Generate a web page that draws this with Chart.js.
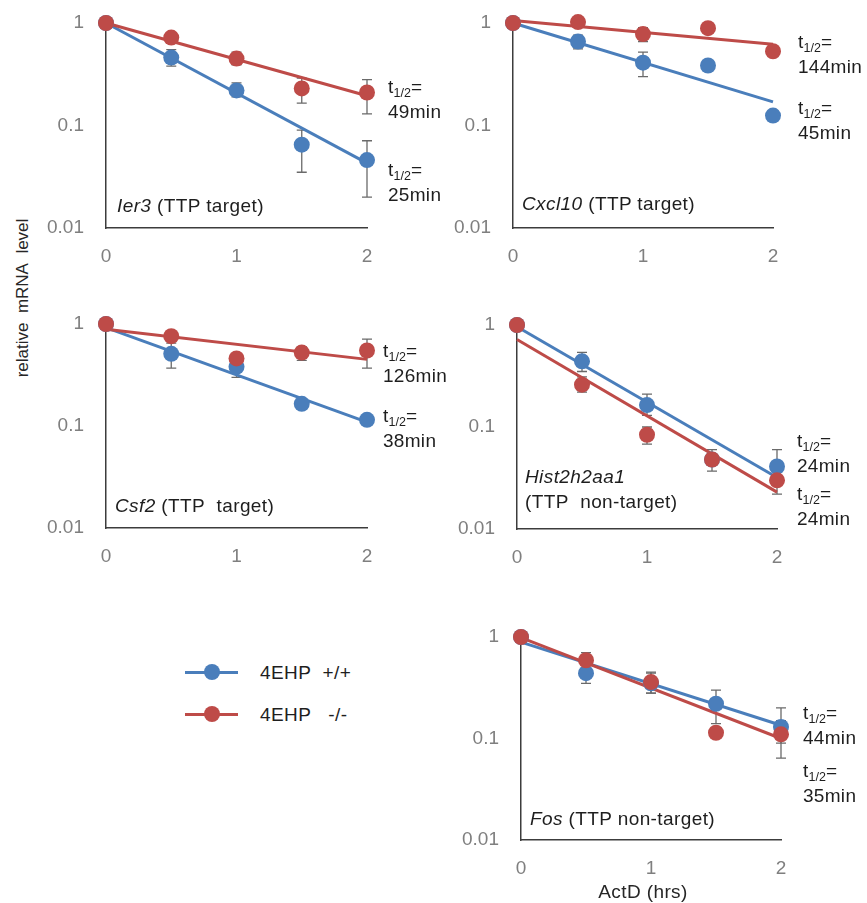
<!DOCTYPE html>
<html><head><meta charset="utf-8">
<script src="https://cdn.jsdelivr.net/npm/chart.js@4.4.0/dist/chart.umd.min.js"></script>
<style>
html,body{margin:0;padding:0;background:#fff;}
body{width:867px;height:903px;position:relative;overflow:hidden;font-family:'Liberation Sans',Arial,sans-serif;}
canvas{position:absolute;}
.txt{position:absolute;white-space:nowrap;font-size:19px;color:#1e1e1e;line-height:25px;letter-spacing:0.3px;}
.txt sub{font-size:12.5px;vertical-align:-4px;line-height:0;letter-spacing:0;}
.gene{position:absolute;white-space:nowrap;font-size:19px;color:#1e1e1e;line-height:25px;letter-spacing:0.4px;}
.gene i{font-style:italic;}
.lg-line{position:absolute;height:3px;}
.lg-dot{position:absolute;width:16px;height:16px;border-radius:50%;}
</style>
</head><body>
<script>
// ---------- shared axes ----------
const times = [0, 0.5, 1, 1.5, 2];
const fitTimes = [0, 2];
const xTickValues = [0, 1, 2];
const xTickLabels = ['0', '1', '2'];
const yTickValues = [0.01, 0.1, 1];
const yTickLabels = ['0.01', '0.1', '1'];
const seriesNames = ['4EHP +/+', '4EHP -/-'];

// ---------- Ier3 ----------
const ier3WT = [1, 0.46, 0.22, 0.065, 0.046];
const ier3WTHi = [null, 0.55, 0.26, 0.09, 0.071];
const ier3WTLo = [null, 0.38, 0.19, 0.035, 0.02];
const ier3KO = [1, 0.72, 0.45, 0.23, 0.21];
const ier3KOHi = [null, null, 0.52, 0.29, 0.28];
const ier3KOLo = [null, null, 0.39, 0.165, 0.13];
const ier3FitWT = [1.0, 0.043];
const ier3FitKO = [1.0, 0.195];

// ---------- Cxcl10 ----------
const cxcl10WT = [1, 0.66, 0.41, 0.385, 0.125];
const cxcl10WTHi = [null, 0.76, 0.52, null, null];
const cxcl10WTLo = [null, 0.56, 0.30, null, null];
const cxcl10KO = [1, 1.02, 0.78, 0.89, 0.53];
const cxcl10KOHi = [null, null, 0.90, null, null];
const cxcl10KOLo = [null, null, 0.66, null, null];
const cxcl10FitWT = [1.0, 0.17];
const cxcl10FitKO = [1.06, 0.62];

// ---------- Csf2 ----------
const csf2WT = [1, 0.51, 0.38, 0.165, 0.115];
const csf2WTHi = [null, 0.65, 0.43, null, null];
const csf2WTLo = [null, 0.37, 0.30, null, null];
const csf2KO = [1, 0.76, 0.46, 0.525, 0.55];
const csf2KOHi = [null, null, null, 0.60, 0.71];
const csf2KOLo = [null, null, null, 0.44, 0.37];
const csf2FitWT = [0.92, 0.109];
const csf2FitKO = [0.89, 0.45];

// ---------- Hist2h2aa1 ----------
const histWT = [1, 0.44, 0.164, 0.048, 0.041];
const histWTHi = [null, 0.54, 0.21, null, 0.06];
const histWTLo = [null, 0.35, 0.13, null, null];
const histKO = [1, 0.26, 0.084, 0.048, 0.03];
const histKOHi = [null, 0.31, 0.10, 0.06, null];
const histKOLo = [null, 0.22, 0.068, 0.037, 0.022];
const histFitWT = [0.96, 0.032];
const histFitKO = [0.72, 0.023];

// ---------- Fos ----------
const fosWT = [1, 0.44, 0.35, 0.22, 0.13];
const fosWTHi = [null, 0.55, 0.44, 0.30, 0.20];
const fosWTLo = [null, 0.35, 0.28, 0.14, 0.09];
const fosKO = [1, 0.59, 0.36, 0.114, 0.11];
const fosKOHi = [null, 0.70, 0.45, null, 0.15];
const fosKOLo = [null, 0.49, 0.28, null, 0.064];
const fosFitWT = [0.89, 0.135];
const fosFitKO = [0.985, 0.10];

// ---------- text ----------
const halfLives = {
  ier3: ['49min', '25min'], cxcl10: ['144min', '45min'], csf2: ['126min', '38min'],
  hist: ['24min', '24min'], fos: ['44min', '35min']
};
const yTitle = 'relative  mRNA  level';
const xTitle = 'ActD (hrs)';

// ---------- style ----------
const BLUE = '#4a7ebb';
const RED = '#be4b48';
const AXIS = '#3c3c3c';
const TICK = '#7f7f7f';
const ERR = '#6a6a6a';
const FONT = "'Liberation Sans', Arial, sans-serif";
const YW = 70, XH = 50, PT = 40, PR = 32;

const panels = [
  {wt: ier3WT, wtHi: ier3WTHi, wtLo: ier3WTLo, ko: ier3KO, koHi: ier3KOHi, koLo: ier3KOLo, fitWT: ier3FitWT, fitKO: ier3FitKO, box: [106, 23, 367, 228]},
  {wt: cxcl10WT, wtHi: cxcl10WTHi, wtLo: cxcl10WTLo, ko: cxcl10KO, koHi: cxcl10KOHi, koLo: cxcl10KOLo, fitWT: cxcl10FitWT, fitKO: cxcl10FitKO, box: [513, 23, 773, 228]},
  {wt: csf2WT, wtHi: csf2WTHi, wtLo: csf2WTLo, ko: csf2KO, koHi: csf2KOHi, koLo: csf2KOLo, fitWT: csf2FitWT, fitKO: csf2FitKO, box: [106, 324, 367, 528]},
  {wt: histWT, wtHi: histWTHi, wtLo: histWTLo, ko: histKO, koHi: histKOHi, koLo: histKOLo, fitWT: histFitWT, fitKO: histFitKO, box: [517, 325, 777, 529]},
  {wt: fosWT, wtHi: fosWTHi, wtLo: fosWTLo, ko: fosKO, koHi: fosKOHi, koLo: fosKOLo, fitWT: fosFitWT, fitKO: fosFitKO, box: [521, 637, 781, 840]}
];

const errorBars = {
  id: 'errorBars',
  beforeDatasetsDraw(chart) {
    const {ctx} = chart;
    const xs = chart.scales.x, ys = chart.scales.y;
    ctx.save();
    ctx.strokeStyle = ERR;
    ctx.lineWidth = 1.3;
    chart.data.datasets.forEach(ds => {
      if (!ds.errHigh) return;
      ds.data.forEach((p, i) => {
        const px = xs.getPixelForValue(p.x);
        const py = ys.getPixelForValue(p.y);
        [ds.errHigh[i], ds.errLow[i]].forEach(v => {
          if (v == null) return;
          const ey = ys.getPixelForValue(v);
          ctx.beginPath();
          ctx.moveTo(px, py); ctx.lineTo(px, ey);
          ctx.moveTo(px - 5, ey); ctx.lineTo(px + 5, ey);
          ctx.stroke();
        });
      });
    });
    ctx.restore();
  }
};

function pts(xs, ys) { return xs.map((x, i) => ({x: x, y: ys[i]})); }

panels.forEach(p => {
  const [L, T, R, B] = p.box;
  const c = document.createElement('canvas');
  const w = YW + (R - L) + PR, h = PT + (B - T) + XH;
  c.width = w; c.height = h;
  c.style.left = (L - YW) + 'px'; c.style.top = (T - PT) + 'px';
  c.style.width = w + 'px'; c.style.height = h + 'px';
  document.body.appendChild(c);
  new Chart(c, {
    type: 'scatter',
    data: {datasets: [
      {label: seriesNames[1] + ' fit', type: 'line', data: pts(fitTimes, p.fitKO), borderColor: RED, borderWidth: 3, pointRadius: 0, fill: false, clip: false, order: 2},
      {label: seriesNames[0] + ' fit', type: 'line', data: pts(fitTimes, p.fitWT), borderColor: BLUE, borderWidth: 3, pointRadius: 0, fill: false, clip: false, order: 3},
      {label: seriesNames[0], data: pts(times, p.wt), errHigh: p.wtHi, errLow: p.wtLo, backgroundColor: BLUE, borderWidth: 0, pointRadius: 8, clip: false, order: 1},
      {label: seriesNames[1], data: pts(times, p.ko), errHigh: p.koHi, errLow: p.koLo, backgroundColor: RED, borderWidth: 0, pointRadius: 8, clip: false, order: 0}
    ]},
    options: {
      responsive: false, animation: false, devicePixelRatio: 1, events: [],
      layout: {padding: {top: PT, right: PR, left: 0, bottom: 0}},
      plugins: {legend: {display: false}, tooltip: {enabled: false}},
      scales: {
        x: {
          type: 'linear', min: 0, max: 2,
          afterBuildTicks: s => { s.ticks = xTickValues.map(v => ({value: v})); },
          afterFit: s => { s.height = XH; },
          grid: {display: false, drawTicks: false},
          border: {display: true, color: AXIS, width: 1.5},
          ticks: {padding: 17, color: TICK, font: {family: FONT, size: 19}, maxRotation: 0, autoSkip: false,
                  callback: v => xTickLabels[xTickValues.indexOf(v)]}
        },
        y: {
          type: 'logarithmic', min: 0.01, max: 1,
          afterBuildTicks: s => { s.ticks = yTickValues.map(v => ({value: v})); },
          afterFit: s => { s.width = YW; },
          grid: {display: false, drawTicks: false},
          border: {display: true, color: AXIS, width: 1.5},
          ticks: {padding: 22, color: TICK, font: {family: FONT, size: 19}, autoSkip: false,
                  callback: v => yTickLabels[yTickValues.indexOf(v)]}
        }
      }
    },
    plugins: [errorBars]
  });
});

function addDiv(cls, html, left, top, extra) {
  const d = document.createElement('div');
  d.className = cls; d.innerHTML = html;
  d.style.left = left + 'px'; d.style.top = top + 'px';
  if (extra) Object.assign(d.style, extra);
  document.body.appendChild(d);
  return d;
}
const T12 = 't<sub>1/2</sub>=';
addDiv('txt', T12 + '<br>' + halfLives.ier3[0], 388, 74);
addDiv('txt', T12 + '<br>' + halfLives.ier3[1], 388, 157);
addDiv('txt', T12 + '<br>' + halfLives.cxcl10[0], 798, 29);
addDiv('txt', T12 + '<br>' + halfLives.cxcl10[1], 798, 95);
addDiv('txt', T12 + '<br>' + halfLives.csf2[0], 383, 338);
addDiv('txt', T12 + '<br>' + halfLives.csf2[1], 383, 403);
addDiv('txt', T12 + '<br>' + halfLives.hist[0], 797, 428);
addDiv('txt', T12 + '<br>' + halfLives.hist[1], 797, 481);
addDiv('txt', T12 + '<br>' + halfLives.fos[0], 803, 700);
addDiv('txt', T12 + '<br>' + halfLives.fos[1], 803, 758);

addDiv('gene', '<i>Ier3</i> (TTP target)', 117, 193);
addDiv('gene', '<i>Cxcl10</i> (TTP target)', 522, 191);
addDiv('gene', '<i>Csf2</i> (TTP&nbsp; target)', 115, 493);
addDiv('gene', '<i>Hist2h2aa1</i><br>(TTP&nbsp; non-target)', 525, 464);
addDiv('gene', '<i>Fos</i> (TTP non-target)', 530, 806);

addDiv('gene', yTitle.replace(/ /g, '&nbsp;'), 22, 298, {transform: 'translate(-50%,-50%) rotate(-90deg)', fontSize: '17px', color: '#262626', letterSpacing: '0px'});
addDiv('gene', xTitle, 643, 891, {transform: 'translate(-50%,-50%)', fontSize: '19px', color: '#262626'});

[[BLUE, 672, seriesNames[0].replace(' ', '&nbsp;&nbsp;')], [RED, 714, seriesNames[1].replace(' ', '&nbsp;&nbsp;&nbsp;')]].forEach(([col, cy, label]) => {
  addDiv('lg-line', '', 185, cy - 1.5, {width: '53px', background: col});
  addDiv('lg-dot', '', 204, cy - 8, {background: col});
  addDiv('gene', label, 260, cy - 12.5);
});
</script>
</body></html>
